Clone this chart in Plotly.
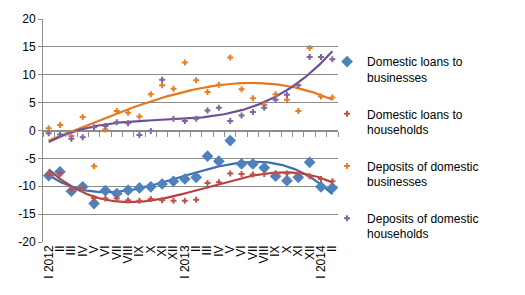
import numpy as np
import plotly.graph_objects as go

months = ["I 2012", "II", "III", "IV", "V", "VI", "VII", "VIII", "IX", "X", "XI", "XII",
          "I 2013", "II", "III", "IV", "V", "VI", "VII", "VIII", "IX", "X", "XI", "XII",
          "I 2014", "II"]

loans_businesses = [-8.1, -7.4, -10.9, -10.1, -13.1, -10.8, -11.3, -10.7, -10.3, -10.1, -9.6, -9.1,
                    -8.7, -8.4, -4.6, -5.5, -1.8, -6.0, -6.0, -6.7, -8.2, -9.0, -8.4, -5.7,
                    -10.1, -10.3]
loans_households = [-7.9, -7.7, -10.6, -10.4, -12.1, -12.2, -12.2, -12.5, -12.6, -12.3, -12.5, -12.6,
                    -12.6, -12.4, -9.4, -9.3, -7.7, -7.8, -7.9, -7.8, -7.7, -7.7, -7.7, -8.2,
                    -8.7, -9.1]
deposits_businesses = [0.4, 1.0, -1.0, 2.4, -6.4, 0.2, 3.5, 3.2, 2.5, 6.5, 8.1, 7.5,
                       12.2, 9.0, 6.9, 8.2, 13.1, 7.4, 5.8, 4.6, 6.5, 5.5, 3.5, 14.8,
                       6.1, 5.9]
deposits_households = [-0.5, -0.7, -1.5, -1.2, 0.6, 0.8, 1.5, 1.3, -0.8, -0.1, 9.1, 2.1,
                       1.7, 2.1, 3.6, 4.1, 1.7, 2.7, 3.3, 4.1, 5.5, 6.4, 8.1, 13.2,
                       13.2, 12.8]

y_ticks = [-20, -15, -10, -5, 0, 5, 10, 15, 20]
y_tick_text = [str(v) for v in y_ticks]

series = [
    ("Domestic loans to<br>businesses", loans_businesses, "#4F81BD", "#3D6FAD", "diamond", 9),
    ("Domestic loans to<br>households", loans_households, "#C0504D", "#B8413E", "cross", 5),
    ("Deposits of domestic<br>businesses", deposits_businesses, "#EA7D22", "#E8771C", "cross", 5),
    ("Deposits of domestic<br>households", deposits_households, "#8064A2", "#6C5294", "cross", 5),
]

xi = np.arange(len(months))
fig = go.Figure()
for k, (name, vals, mcol, lcol, sym, sz) in enumerate(series):
    coef = np.polyfit(xi, vals, 3)
    xs = np.linspace(0, len(months) - 1, 200)
    fig.add_trace(go.Scatter(x=xs, y=np.polyval(coef, xs), mode="lines",
                             line=dict(color=lcol, width=2.2),
                             showlegend=False, hoverinfo="skip"))
for k, (name, vals, mcol, lcol, sym, sz) in enumerate(series):
    fig.add_trace(go.Scatter(x=xi, y=vals, mode="markers", name=name,
                             legendgroup=f"g{k}",
                             marker=dict(color=mcol, symbol=sym, size=sz,
                                         line=dict(width=0))))

# zero-line axis with boundary ticks
fig.add_trace(go.Scatter(x=[0], y=[0], xaxis="x2", mode="markers",
                         marker=dict(opacity=0), showlegend=False, hoverinfo="skip"))

grid = "#8C8C8C"
fig.update_layout(
    width=525, height=295,
    margin=dict(l=43, r=187, t=17, b=53),
    paper_bgcolor="white", plot_bgcolor="white",
    font=dict(family="Liberation Sans", size=12, color="#000000"),
    xaxis=dict(range=[-0.5, len(months) - 0.5], tickvals=list(xi), ticktext=months,
               tickangle=-90, showgrid=False, zeroline=False, showline=False,
               ticks="", tickfont=dict(size=12)),
    xaxis2=dict(overlaying="x", anchor="free", position=0.5,
                range=[-0.5, len(months) - 0.5],
                tickvals=list(np.arange(-0.5, len(months), 1.0)),
                showticklabels=False, ticks="outside", ticklen=5, tickcolor=grid,
                showline=True, linecolor=grid, linewidth=1, showgrid=False, zeroline=False),
    yaxis=dict(range=[-20, 20], tickvals=y_ticks, ticktext=y_tick_text,
               showgrid=True, gridcolor=grid, gridwidth=1,
               zeroline=False, showline=True, linecolor=grid, ticks="outside",
               ticklen=4, tickcolor=grid, tickfont=dict(size=12)),
    legend=dict(x=0.963, xanchor="left", y=0.873, yanchor="top",
                valign="top", tracegroupgap=18, font=dict(size=12),
                bgcolor="rgba(0,0,0,0)"),
    showlegend=True,
)
fig.write_html("out.html")
